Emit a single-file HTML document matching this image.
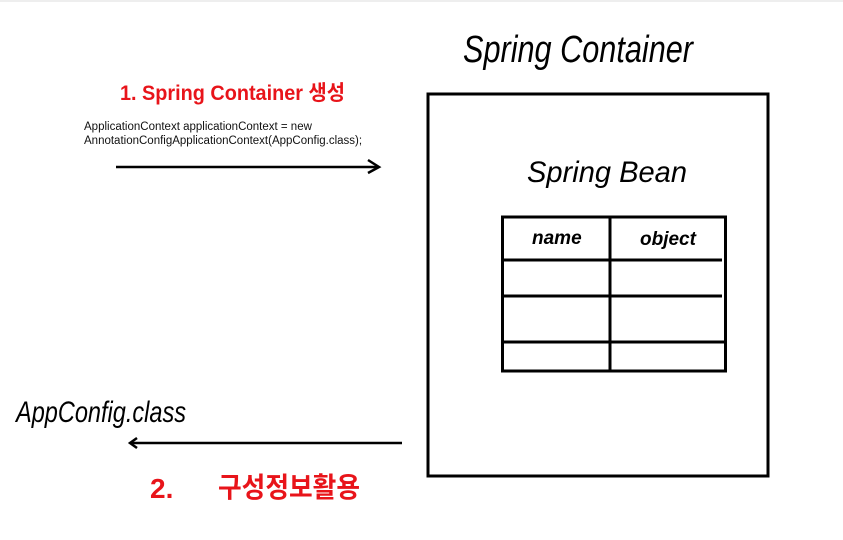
<!DOCTYPE html>
<html><head><meta charset="utf-8"><style>
html,body{margin:0;padding:0;background:#fff;width:843px;height:540px;overflow:hidden}
</style></head><body>
<svg width="843" height="540" xmlns="http://www.w3.org/2000/svg" font-family="Liberation Sans, Noto Sans CJK KR, sans-serif">
<rect x="0" y="0" width="843" height="540" fill="#fff"/>
<line x1="0" y1="1" x2="843" y2="1" stroke="#eee" stroke-width="2"/>
<text x="463" y="62" font-size="38" font-style="italic" fill="#000" textLength="230" lengthAdjust="spacingAndGlyphs">Spring Container</text>
<text x="120" y="100" font-size="21" font-weight="bold" fill="#e8141a" textLength="225" lengthAdjust="spacingAndGlyphs">1. Spring Container 생성</text>
<text x="84" y="130" font-size="11.5" fill="#111">ApplicationContext applicationContext = new</text>
<text x="84" y="144" font-size="11.5" fill="#111">AnnotationConfigApplicationContext(AppConfig.class);</text>
<line x1="116" y1="167" x2="378" y2="167" stroke="#000" stroke-width="2.5"/>
<polyline points="368,160 379,167 368,173" fill="none" stroke="#000" stroke-width="2.5"/>
<rect x="428" y="94" width="340" height="382" fill="none" stroke="#000" stroke-width="3"/>
<text x="527" y="182" font-size="30" font-style="italic" fill="#000" textLength="160" lengthAdjust="spacingAndGlyphs">Spring Bean</text>
<rect x="502.5" y="217" width="223" height="154" fill="none" stroke="#000" stroke-width="3"/>
<line x1="610" y1="217" x2="610" y2="372" stroke="#000" stroke-width="3"/>
<line x1="502" y1="260" x2="722" y2="260" stroke="#000" stroke-width="3"/>
<line x1="502" y1="296" x2="722" y2="296" stroke="#000" stroke-width="3"/>
<line x1="502" y1="342" x2="726" y2="342" stroke="#000" stroke-width="3"/>
<text x="532" y="244" font-size="19" font-style="italic" font-weight="bold" fill="#000">name</text>
<text x="640" y="245" font-size="19" font-style="italic" font-weight="bold" fill="#000">object</text>
<text x="16" y="422" font-size="30" font-style="italic" fill="#000" textLength="170" lengthAdjust="spacingAndGlyphs">AppConfig.class</text>
<line x1="130" y1="443" x2="402" y2="443" stroke="#000" stroke-width="2.5"/>
<polyline points="137,438 130,443 137,448" fill="none" stroke="#000" stroke-width="2.5"/>
<text x="150" y="498" font-size="28" font-weight="bold" fill="#e8141a">2.</text>
<text x="218" y="497" font-size="28" font-weight="bold" fill="#e8141a" textLength="142" lengthAdjust="spacingAndGlyphs">구성정보활용</text>
</svg>
</body></html>
